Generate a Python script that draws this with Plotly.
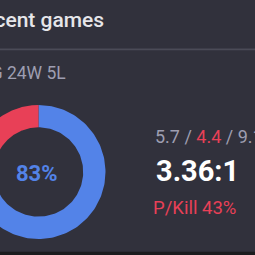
import numpy as np
import plotly.graph_objects as go

# ---- data ----
title = "Recent games"
games = 29
wins = 24
losses = 5
slice_labels = ["Win", "Loss"]
slice_values = [wins, losses]
slice_colors = ["#5383e8", "#e84057"]
kills = 5.7
deaths = 4.4
assists = 9.1
kda_ratio = "3.36:1"
kill_participation = 43

# ---- layout constants (pixel space) ----
W = H = 255
BG = "#31313c"
cx, cy, r_out, r_in = 38.5, 172.0, 67.0, 44.7

fig = go.Figure()

total = sum(slice_values)
start = 0.0
for lab, val, col in zip(slice_labels, slice_values, slice_colors):
    frac = val / total
    th = np.linspace(start, start + frac, 160) * 2 * np.pi
    xs = np.concatenate([cx + r_out * np.sin(th), cx + r_in * np.sin(th[::-1])])
    ys = np.concatenate([cy - r_out * np.cos(th), cy - r_in * np.cos(th[::-1])])
    fig.add_trace(go.Scatter(
        x=xs, y=ys, fill="toself", fillcolor=col, mode="lines",
        line=dict(width=0, color=col), name=lab, hoverinfo="skip", showlegend=False))
    start += frac

font = "Roboto, Arial, sans-serif"
ann = []
ann.append(dict(x=106, y=20, text=title, xanchor="right", yanchor="middle",
                font=dict(family=font, size=21, color="#e6e6ea", weight=500)))
ann.append(dict(x=68, y=73, text=f"{games}G {wins}W {losses}L", xanchor="right", yanchor="middle",
                font=dict(family=font, size=17.5, color="#9e9eb1")))
ann.append(dict(x=36.5, y=173, text=f"{round(100 * wins / games)}%", xanchor="center", yanchor="middle",
                font=dict(family=font, size=22, color="#5383e8", weight="bold")))
ann.append(dict(x=152.5, y=136.5,
                text=f"{kills} / <span style='color:#e84057'>{deaths}</span> / {assists}",
                xanchor="left", yanchor="middle",
                font=dict(family=font, size=18, color="#9e9eb1")))
ann.append(dict(x=154, y=171, text=kda_ratio, xanchor="left", yanchor="middle",
                font=dict(family=font, size=29, color="#ffffff", weight="bold")))
ann.append(dict(x=150.5, y=207.5, text=f"P/Kill {kill_participation}%", xanchor="left", yanchor="middle",
                font=dict(family=font, size=18.5, color="#e84057")))
for a in ann:
    a.update(xref="x", yref="y", showarrow=False)

shapes = [
    dict(type="rect", xref="x", yref="y", x0=0, x1=W, y0=48.5, y1=50.2,
         fillcolor="#4b4b57", line=dict(width=0), layer="below"),
    dict(type="rect", xref="x", yref="y", x0=0, x1=W, y0=251.8, y1=H,
         fillcolor="#1c1c1f", line=dict(width=0), layer="below"),
]

fig.update_layout(
    width=W, height=H, margin=dict(l=0, r=0, t=0, b=0),
    paper_bgcolor=BG, plot_bgcolor=BG,
    xaxis=dict(range=[0, W], visible=False, fixedrange=True),
    yaxis=dict(range=[H, 0], visible=False, fixedrange=True),
    annotations=ann, shapes=shapes, showlegend=False,
)

fig.write_html("out.html", config={"displayModeBar": False})
